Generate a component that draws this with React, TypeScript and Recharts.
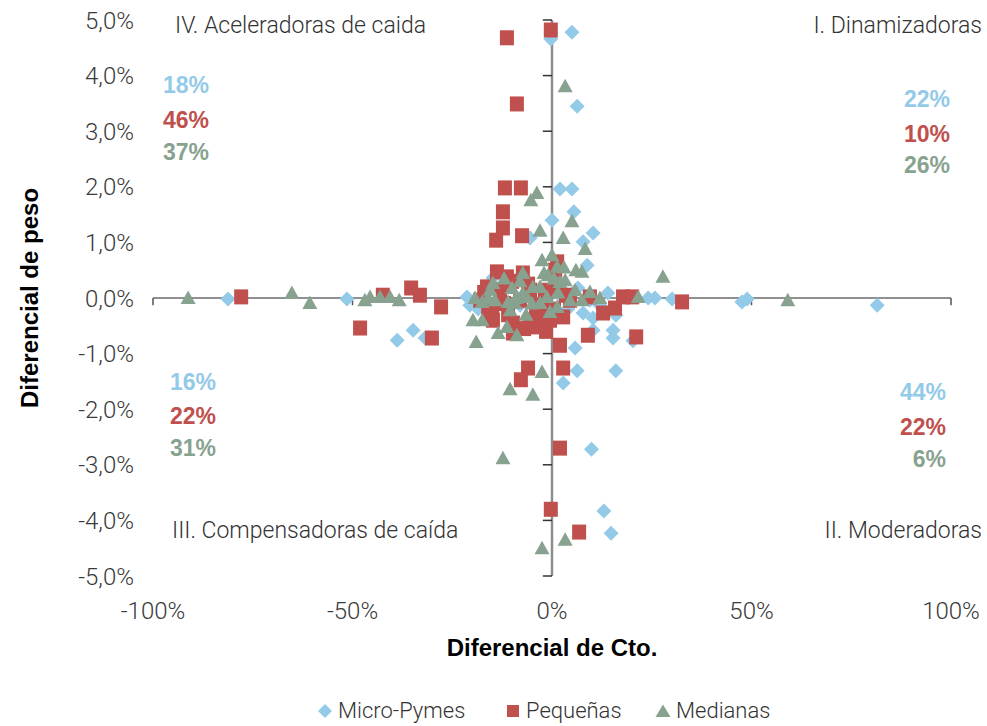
import React from 'react';
import { ScatterChart, Scatter, XAxis, YAxis, ReferenceLine } from 'recharts';

// ---- Data (x: Diferencial de Cto. in %, y: Diferencial de peso in %) ----
const microPymes: [number, number][] = [
  [-81.2, -0.02], [-51.4, -0.02], [-38.8, -0.76], [-34.8, -0.58], [-31.8, -0.72],
  [-21.3, 0.02], [-20.6, -0.13], [-0.3, 4.66], [5.0, 4.78], [6.3, 3.45],
  [2.0, 1.96], [5.0, 1.96], [5.5, 1.55], [0.0, 1.4], [10.3, 1.17],
  [7.8, 1.01], [8.8, 0.59], [-5.5, 1.08], [14.0, 0.09], [24.1, 0.0],
  [25.8, 0.0], [30.1, -0.02], [7.8, -0.27], [10.3, -0.36], [16.0, -0.31],
  [10.3, -0.58], [15.3, -0.58], [15.3, -0.72], [20.3, -0.77], [5.8, -0.9],
  [6.3, -1.31], [16.0, -1.31], [2.8, -1.53], [9.9, -2.72], [13.0, -3.83],
  [14.8, -4.23], [47.6, -0.07], [48.9, -0.02], [81.5, -0.13], [-14.8, 0.36],
  [-8.0, -0.13], [2.0, 0.04], [6.5, 0.18], [9.5, -0.04], [12.0, -0.13],
  [-2.8, -0.36], [-18.5, -0.2], [4.0, -0.2],
];

const pequenas: [number, number][] = [
  [-77.9, 0.02], [-48.1, -0.54], [-42.4, 0.05], [-35.3, 0.18], [-33.1, 0.05],
  [-27.8, -0.16], [-30.1, -0.72], [-11.3, 4.68], [-0.3, 4.82], [-8.8, 3.49],
  [-11.8, 1.98], [-7.8, 1.98], [-12.3, 1.55], [-12.3, 1.26], [-14.0, 1.04],
  [-7.5, 1.12], [-13.8, 0.47], [-11.3, 0.38], [-7.3, 0.45], [0.8, 0.5],
  [1.3, 0.65], [-16.3, 0.2], [-18.0, -0.04], [-16.0, -0.27], [-14.8, -0.4],
  [-9.8, -0.45], [-9.8, -0.63], [-5.5, -0.4], [-3.8, -0.52], [-0.5, -0.4],
  [2.8, -0.34], [2.0, -0.85], [9.0, -0.67], [12.8, -0.27], [15.8, -0.18],
  [9.5, 0.02], [17.8, 0.02], [20.1, 0.02], [21.1, -0.7], [32.6, -0.07],
  [-6.0, -1.26], [-7.8, -1.47], [2.8, -1.26], [2.0, -2.7], [-0.3, -3.8],
  [6.8, -4.21], [-8.0, -0.04], [-3.0, -0.13], [4.5, -0.04], [-5.5, 0.14],
  [-1.8, 0.14], [-17.0, 0.1], [-13.0, 0.15], [-12.0, -0.1], [-10.0, 0.3],
  [-6.0, 0.25], [-4.0, -0.25], [-2.0, -0.3], [0.5, -0.2], [1.0, 0.2],
  [-7.0, -0.55], [-11.0, -0.3], [-15.0, -0.15], [-1.5, -0.6], [3.5, 0.05],
];

const medianas: [number, number][] = [
  [-91.2, 0.0], [-65.2, 0.09], [-60.7, -0.09], [-46.9, -0.04], [-45.6, 0.02],
  [-43.1, 0.02], [-40.6, 0.02], [-38.3, -0.04], [-19.3, 0.0], [-17.5, -0.07],
  [-16.0, 0.0], [-14.3, -0.04], [-19.8, -0.4], [-17.5, -0.4], [-19.0, -0.79],
  [-13.5, -0.63], [-11.3, -0.52], [-8.8, -0.67], [-10.5, -0.22], [-14.8, 0.27],
  [-7.3, 0.45], [-10.0, 0.18], [-7.3, 0.09], [-3.0, 0.2], [-2.5, 0.68],
  [0.0, 0.77], [1.3, 0.56], [2.8, 1.08], [8.3, 0.88], [7.5, 0.47],
  [3.3, 0.32], [4.5, -0.04], [7.5, -0.04], [9.5, 0.11], [12.0, 0.0],
  [21.6, 0.02], [27.8, 0.38], [59.1, -0.04], [3.3, 3.81], [-3.8, 1.89],
  [-5.3, 1.76], [-3.0, 1.21], [5.0, 1.38], [-10.5, -1.64], [-4.8, -1.74],
  [-2.5, -1.33], [-12.3, -2.88], [-2.5, -4.5], [3.3, -4.35], [-3.0, -0.09],
  [-1.3, 0.02], [1.3, -0.16], [-4.8, 0.2], [-6.3, 0.02], [-9.3, -0.09],
  [-11.0, -0.07], [-1.0, 0.41], [2.0, 0.29], [5.8, 0.14], [-8.0, 0.3],
  [-5.0, -0.1], [-2.0, 0.45], [0.5, 0.35], [1.5, 0.1], [-12.0, 0.35],
  [-15.5, 0.15], [-9.0, 0.0], [3.0, 0.55], [-0.5, -0.25], [6.0, 0.5],
  [-6.5, -0.3],
];

const xTicks = [-100, -50, 0, 50, 100];
const yTicks = [-5, -4, -3, -2, -1, 0, 1, 2, 3, 4, 5];

const seriesNames = ['Micro-Pymes', 'Pequeñas', 'Medianas'];
const seriesColors = ['#93CAE8', '#C0504D', '#87A28F'];

// quadrant shares: [Micro-Pymes, Pequeñas, Medianas]
const shareI = ['22%', '10%', '26%'];
const shareII = ['44%', '22%', '6%'];
const shareIII = ['16%', '22%', '31%'];
const shareIV = ['18%', '46%', '37%'];

const quadrantTitles = ['I. Dinamizadoras', 'II. Moderadoras', 'III. Compensadoras de caída', 'IV. Aceleradoras de caida'];

const toPoints = (arr: [number, number][]) => arr.map(([x, y]) => ({ x, y }));

const W = 987;
const H = 726;
const lightFont = 'Roboto, "Liberation Sans", sans-serif';
const boldFont = '"Liberation Sans", Arial, sans-serif';

const DiamondShape = (p: any) => {
  const { cx, cy, fill } = p;
  const r = 7.5;
  return <polygon points={`${cx},${cy - r} ${cx + r},${cy} ${cx},${cy + r} ${cx - r},${cy}`} fill={fill} />;
};
const SquareShape = (p: any) => {
  const { cx, cy, fill } = p;
  return <rect x={cx - 7} y={cy - 7.5} width={14} height={15} fill={fill} />;
};
const TriangleShape = (p: any) => {
  const { cx, cy, fill } = p;
  return <polygon points={`${cx},${cy - 7.5} ${cx + 7.5},${cy + 6} ${cx - 7.5},${cy + 6}`} fill={fill} />;
};

const fmtY = (v: number) => `${v.toFixed(1).replace('.', ',')}%`;
const fmtX = (v: number) => `${v}%`;

const abs = (extra: React.CSSProperties): React.CSSProperties => ({ position: 'absolute', whiteSpace: 'nowrap', lineHeight: 1, ...extra });

const ShareBlock = ({ values, x, ys, align }: { values: string[]; x: number; ys: number[]; align: 'center' | 'right' }) => (
  <>
    {values.map((v, i) => (
      <div
        key={i}
        style={abs({
          left: align === 'center' ? x : undefined,
          right: align === 'right' ? W - x : undefined,
          top: ys[i],
          transform: align === 'center' ? 'translate(-50%,-50%)' : 'translate(0,-50%)',
          color: seriesColors[i],
          fontFamily: boldFont,
          fontWeight: 700,
          fontSize: 23,
        })}
      >
        {v}
      </div>
    ))}
  </>
);

const LegendIcon = ({ i }: { i: number }) => {
  const c = seriesColors[i];
  return (
    <svg width={16} height={16} style={{ display: 'block' }}>
      {i === 0 && <polygon points="8,1 15,8 8,15 1,8" fill={c} />}
      {i === 1 && <rect x={2} y={2} width={12} height={12} fill={c} />}
      {i === 2 && <polygon points="8,1.5 15.5,14 0.5,14" fill={c} />}
    </svg>
  );
};

const titleStyle = { fontFamily: lightFont, fontWeight: 300, fontSize: 23, color: '#333' };

export default function App() {
  const tickStyle = { fill: '#3a3a3a', fontSize: 24, fontFamily: lightFont, fontWeight: 300 } as any;
  return (
    <div style={{ position: 'absolute', left: 0, top: 0, width: W, height: H, background: '#fff' }}>
      <ScatterChart width={W} height={H} margin={{ top: 20, right: 36, left: 0, bottom: 0 }}>
        <XAxis
          type="number"
          dataKey="x"
          domain={[-100, 100]}
          ticks={xTicks}
          tickFormatter={fmtX}
          axisLine={false}
          tickLine={false}
          tickSize={0}
          tickMargin={26}
          height={150}
          tick={tickStyle}
          interval={0}
        />
        <YAxis
          type="number"
          dataKey="y"
          domain={[-5, 5]}
          ticks={yTicks}
          tickFormatter={fmtY}
          axisLine={false}
          tickLine={false}
          tickSize={0}
          tickMargin={19}
          width={153}
          tick={tickStyle}
          interval={0}
        />
        <ReferenceLine y={0} stroke="#6b6b6b" strokeWidth={1.5} />
        <ReferenceLine x={0} stroke="#8e8e8e" strokeWidth={2.5} />
        {yTicks.map((t) => (
          <ReferenceLine key={`yt${t}`} segment={[{ x: -2.3, y: t }, { x: 0, y: t }]} stroke="#333" strokeWidth={1.5} />
        ))}
        {xTicks.filter((t) => t !== 0).map((t) => (
          <ReferenceLine key={`xt${t}`} segment={[{ x: t, y: 0 }, { x: t, y: -0.13 }]} stroke="#555" strokeWidth={1.5} />
        ))}
        <Scatter name={seriesNames[0]} data={toPoints(microPymes)} fill={seriesColors[0]} shape={DiamondShape} isAnimationActive={false} />
        <Scatter name={seriesNames[1]} data={toPoints(pequenas)} fill={seriesColors[1]} shape={SquareShape} isAnimationActive={false} />
        <Scatter name={seriesNames[2]} data={toPoints(medianas)} fill={seriesColors[2]} shape={TriangleShape} isAnimationActive={false} />
      </ScatterChart>

      {/* Quadrant titles */}
      <div style={abs({ left: 175, top: 25, transform: 'translate(0,-50%)', ...titleStyle })}>{quadrantTitles[3]}</div>
      <div style={abs({ right: W - 982, top: 25, transform: 'translate(0,-50%)', ...titleStyle })}>{quadrantTitles[0]}</div>
      <div style={abs({ left: 172, top: 530, transform: 'translate(0,-50%)', ...titleStyle })}>{quadrantTitles[2]}</div>
      <div style={abs({ right: W - 982, top: 530, transform: 'translate(0,-50%)', ...titleStyle })}>{quadrantTitles[1]}</div>

      {/* Quadrant shares */}
      <ShareBlock values={shareIV} x={186} ys={[85, 120, 152]} align="center" />
      <ShareBlock values={shareI} x={950} ys={[99, 134, 165]} align="right" />
      <ShareBlock values={shareIII} x={193} ys={[382, 416, 448]} align="center" />
      <ShareBlock values={shareII} x={946} ys={[392, 427, 459]} align="right" />

      {/* Axis titles */}
      <div style={abs({ left: 30, top: 298, transform: 'translate(-50%,-50%) rotate(-90deg)', fontFamily: boldFont, fontWeight: 700, fontSize: 24, color: '#000' })}>Diferencial de peso</div>
      <div style={abs({ left: 552, top: 648, transform: 'translate(-50%,-50%)', fontFamily: boldFont, fontWeight: 700, fontSize: 24, color: '#000' })}>Diferencial de Cto.</div>

      {/* Legend */}
      {[317, 505, 655].map((lx, i) => (
        <div key={i} style={abs({ left: lx, top: 711, transform: 'translate(0,-50%)', display: 'flex', alignItems: 'center', gap: 5, fontFamily: lightFont, fontWeight: 300, fontSize: 22, color: '#333' })}>
          <LegendIcon i={i} />
          <span>{seriesNames[i]}</span>
        </div>
      ))}
    </div>
  );
}
